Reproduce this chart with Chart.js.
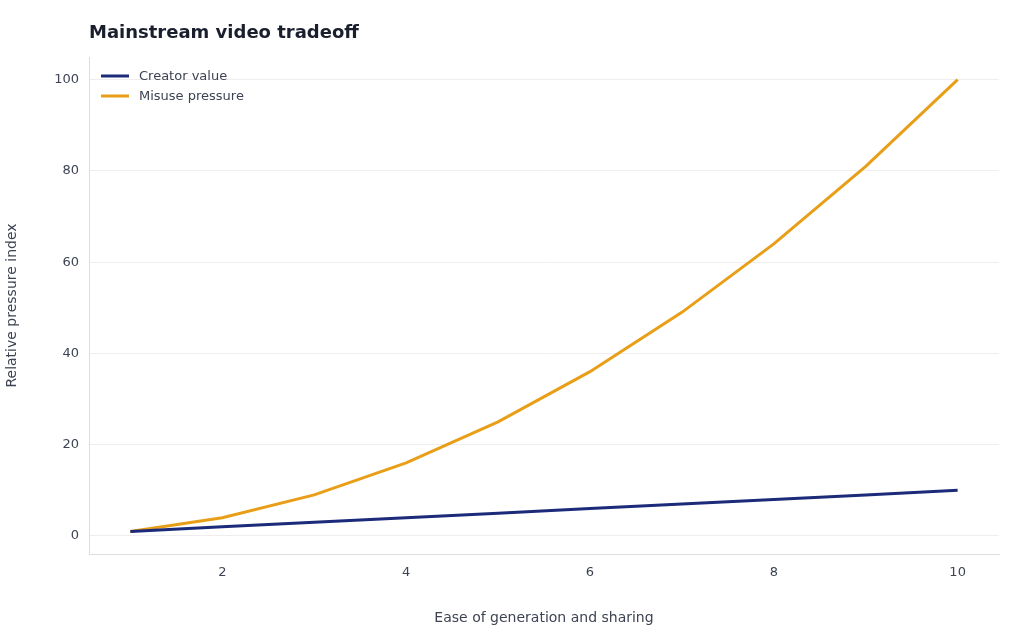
<!DOCTYPE html>
<html><head><meta charset="utf-8">
<script src="https://cdn.jsdelivr.net/npm/chart.js@4/dist/chart.umd.min.js"></script>
<style>html,body{margin:0;padding:0;background:#fff}#w{width:1024px;height:631px}</style>
</head><body><div id="w"><canvas id="c"></canvas></div>
<script>
const xValues=[1,2,3,4,5,6,7,8,9,10];
const creatorValue=[1,2,3,4,5,6,7,8,9,10];
const misusePressure=[1,4,9,16,25,36,49,64,81,100];
const xTicks=[2,4,6,8,10];
const yTicks=[0,20,40,60,80,100];
const F='"DejaVu Sans", sans-serif';
const overlay={id:'overlay',afterDraw(ch){
  const c=ch.ctx,a=ch.chartArea;c.save();
  c.fillStyle='#1a1f2e';c.font='bold 18px '+F;c.textBaseline='middle';c.textAlign='left';
  c.fillText('Mainstream video tradeoff',89,33);
  c.font='13px '+F;
  ch.data.datasets.forEach((d,i)=>{const y=76+i*20;
    c.strokeStyle=d.borderColor;c.lineWidth=3;c.beginPath();c.moveTo(101,y);c.lineTo(129,y);c.stroke();
    c.fillStyle='#3d4352';c.fillText(d.label,139,y+1);});
  c.restore();}};
new Chart(document.getElementById('c'),{type:'line',
 data:{datasets:[
  {label:'Creator value',data:xValues.map((x,i)=>({x,y:creatorValue[i]})),borderColor:'#1c2a7a',borderWidth:3,pointRadius:0,tension:0},
  {label:'Misuse pressure',data:xValues.map((x,i)=>({x,y:misusePressure[i]})),borderColor:'#e89f17',borderWidth:3,pointRadius:0,tension:0}]},
 options:{responsive:true,maintainAspectRatio:false,animation:false,
  layout:{padding:{top:57,right:25,left:0,bottom:0}},
  plugins:{legend:{display:false},tooltip:{enabled:false}},
  scales:{
   x:{type:'linear',min:0.55,max:10.45,afterFit(s){s.height=77;},
    afterBuildTicks(s){s.ticks=xTicks.map(v=>({value:v}));},
    grid:{display:false,drawTicks:true,tickLength:5},border:{color:'#dddddd'},
    ticks:{color:'#3d4352',font:{family:F,size:13},padding:6},
    title:{display:true,text:'Ease of generation and sharing',color:'#3d4352',font:{family:F,size:14},padding:{top:10}}},
   y:{min:-3.95,max:104.95,afterFit(s){s.width=89;},
    afterBuildTicks(s){s.ticks=yTicks.map(v=>({value:v}));},
    grid:{color:'#eeeeee',drawTicks:false},border:{color:'#dddddd'},
    ticks:{color:'#3d4352',font:{family:F,size:13},padding:10},
    title:{display:true,text:'Relative pressure index',color:'#3d4352',font:{family:F,size:14},padding:{bottom:8}}}}},
 plugins:[overlay]});
</script></body></html>
